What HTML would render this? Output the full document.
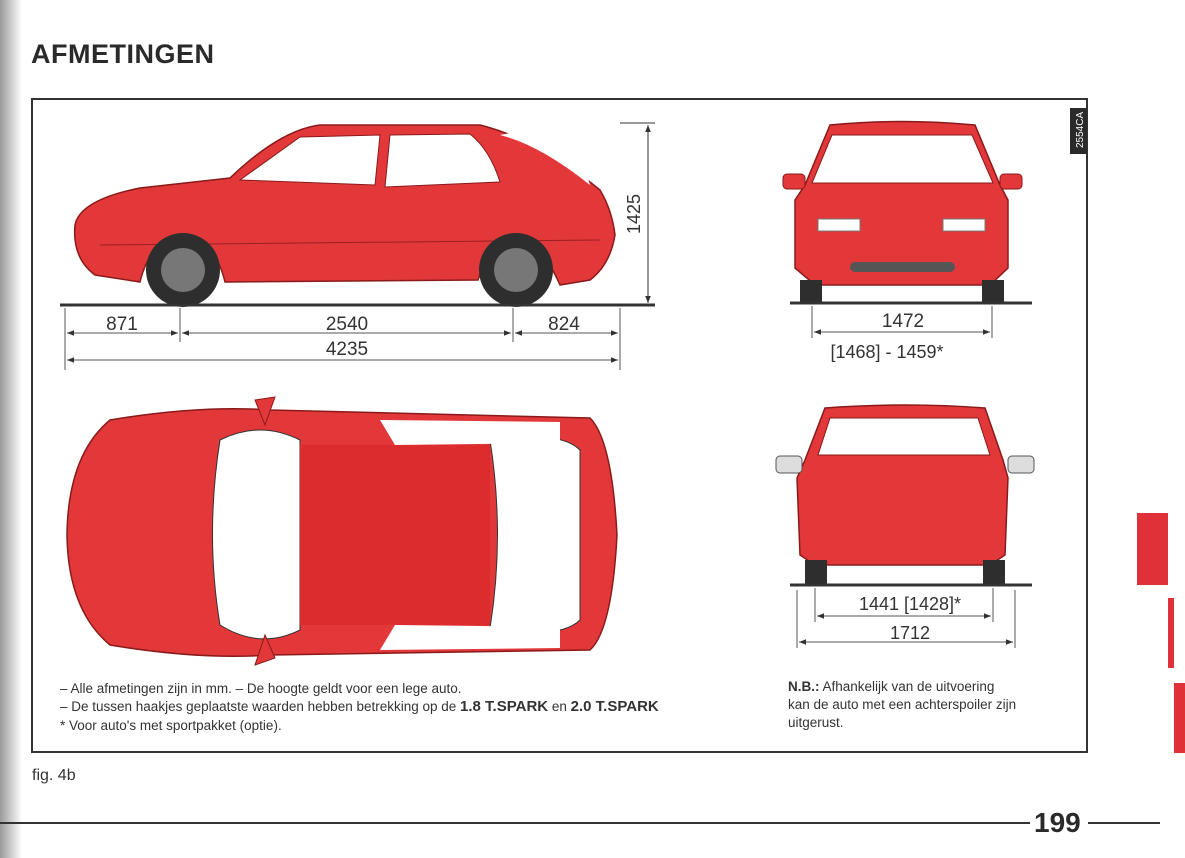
<!DOCTYPE html>
<html><head><meta charset="utf-8"><style>
html,body{margin:0;padding:0;background:#fff}
body{width:1185px;height:858px;overflow:hidden;position:relative;font-family:"Liberation Sans",sans-serif}
svg{position:absolute;left:0;top:0}
</style></head><body>
<svg width="1185" height="858" viewBox="0 0 1185 858" xmlns="http://www.w3.org/2000/svg">
<defs>
<linearGradient id="lg" x1="0" x2="1"><stop offset="0" stop-color="#9a9a9a"/><stop offset="1" stop-color="#fff"/></linearGradient>
<marker id="a" viewBox="0 0 10 10" refX="10" refY="5" markerWidth="9" markerHeight="7" orient="auto-start-reverse"><path d="M0,1 L10,5 L0,9z" fill="#333"/></marker>
</defs>
<rect x="0" y="0" width="22" height="858" fill="url(#lg)"/>
<text x="31" y="63" font-size="27" font-weight="bold" fill="#2a2a2a" style="letter-spacing:0.5px">AFMETINGEN</text>
<rect x="32" y="99" width="1055" height="653" fill="none" stroke="#333" stroke-width="2"/>
<rect x="1070" y="108" width="17" height="46" fill="#2a2a2a"/>
<text transform="translate(1083,148) rotate(-90)" font-size="10" fill="#fff">2554CA</text>

<!-- side view -->
<g>
<path d="M75,225 Q80,200 140,188 L230,178 Q280,130 320,125 L480,125 Q540,140 600,190 Q612,210 615,235 Q610,265 590,280 L560,285 Q540,240 515,240 Q490,245 478,280 L225,282 Q215,240 183,238 Q150,240 140,282 L95,275 Q72,258 75,225Z" fill="#e2383a" stroke="#8a1a1a" stroke-width="1.5"/>
<path d="M240,180 L300,137 L380,135 L375,185Z" fill="#fff" stroke="#8a1a1a"/>
<path d="M390,135 L470,134 Q490,150 500,182 L385,187Z" fill="#fff" stroke="#8a1a1a"/>
<path d="M500,135 Q540,145 590,185 L585,168 Q560,148 510,133Z" fill="#fff"/>
<line x1="100" y1="245" x2="600" y2="240" stroke="#9a2020"/>
<circle cx="183" cy="270" r="37" fill="#2e2e2e"/><circle cx="183" cy="270" r="22" fill="#777"/>
<circle cx="516" cy="270" r="37" fill="#2e2e2e"/><circle cx="516" cy="270" r="22" fill="#777"/>
</g>
<line x1="60" y1="305" x2="655" y2="305" stroke="#333" stroke-width="3"/>
<line x1="648" y1="125" x2="648" y2="303" stroke="#333" marker-start="url(#a)" marker-end="url(#a)"/>
<line x1="620" y1="123" x2="655" y2="123" stroke="#333"/>
<text transform="translate(640,214) rotate(-90)" font-size="18" fill="#333" text-anchor="middle" style="font-stretch:condensed">1425</text>
<g stroke="#555" stroke-width="1">
<line x1="65" y1="308" x2="65" y2="370"/><line x1="180" y1="308" x2="180" y2="342"/><line x1="513" y1="308" x2="513" y2="342"/><line x1="620" y1="308" x2="620" y2="370"/>
<line x1="67" y1="333" x2="178" y2="333" marker-start="url(#a)" marker-end="url(#a)"/>
<line x1="182" y1="333" x2="511" y2="333" marker-start="url(#a)" marker-end="url(#a)"/>
<line x1="515" y1="333" x2="618" y2="333" marker-start="url(#a)" marker-end="url(#a)"/>
<line x1="67" y1="360" x2="618" y2="360" marker-start="url(#a)" marker-end="url(#a)"/>
</g>
<g font-size="19" fill="#333" text-anchor="middle">
<text x="122" y="330">871</text><text x="347" y="330">2540</text><text x="564" y="330">824</text><text x="347" y="355">4235</text>
</g>

<!-- front view -->
<path d="M830,125 Q900,118 975,125 L1000,185 L1008,200 L1008,268 L990,285 L815,285 L795,268 L795,200 L805,185Z" fill="#e2383a" stroke="#8a1a1a" stroke-width="1.5"/>
<path d="M832,135 L972,135 L993,183 L812,183Z" fill="#fff" stroke="#8a1a1a"/>
<rect x="783" y="174" width="22" height="15" rx="4" fill="#e2383a" stroke="#8a1a1a"/>
<rect x="1000" y="174" width="22" height="15" rx="4" fill="#e2383a" stroke="#8a1a1a"/>
<rect x="818" y="219" width="42" height="12" fill="#fff" stroke="#777"/><rect x="943" y="219" width="42" height="12" fill="#fff" stroke="#777"/>
<rect x="850" y="262" width="105" height="10" rx="5" fill="#555"/>
<rect x="800" y="280" width="22" height="23" fill="#2e2e2e"/><rect x="982" y="280" width="22" height="23" fill="#2e2e2e"/>
<line x1="790" y1="303" x2="1032" y2="303" stroke="#333" stroke-width="3"/>
<line x1="812" y1="306" x2="812" y2="338" stroke="#555"/><line x1="992" y1="306" x2="992" y2="338" stroke="#555"/>
<line x1="814" y1="332" x2="990" y2="332" stroke="#555" marker-start="url(#a)" marker-end="url(#a)"/>
<text x="903" y="327" font-size="19" fill="#333" text-anchor="middle">1472</text>
<text x="887" y="358" font-size="18" fill="#333" text-anchor="middle">[1468] - 1459*</text>

<!-- top view -->
<path d="M110,420 Q200,405 270,410 L590,418 Q612,440 617,535 Q612,630 590,650 L270,655 Q200,660 110,645 Q68,610 67,535 Q68,455 110,420Z" fill="#e2383a" stroke="#8a1a1a" stroke-width="1.5"/>
<path d="M220,440 Q260,420 300,440 L300,630 Q260,650 220,625 Q205,535 220,440Z" fill="#fff" stroke="#333"/>
<path d="M490,440 Q560,430 580,450 L580,620 Q560,640 490,628 Q505,535 490,440Z" fill="#fff" stroke="#333"/>
<rect x="300" y="445" width="190" height="180" fill="#dd2c2e"/>
<path d="M380,420 L560,422 L560,443 L395,445Z" fill="#fff"/><path d="M380,650 L560,648 L560,627 L395,625Z" fill="#fff"/>
<path d="M255,400 L275,397 L265,425Z" fill="#e2383a" stroke="#8a1a1a"/><path d="M255,665 L275,658 L265,635Z" fill="#e2383a" stroke="#8a1a1a"/>

<!-- rear view -->
<path d="M825,408 Q905,402 985,408 L1003,460 L1008,478 L1005,555 L990,565 L815,565 L800,555 L797,478 L805,460Z" fill="#e2383a" stroke="#8a1a1a" stroke-width="1.5"/>
<path d="M830,418 L978,418 L990,455 L818,455Z" fill="#fff" stroke="#8a1a1a"/>
<rect x="776" y="456" width="26" height="17" rx="4" fill="#ddd" stroke="#555"/><rect x="1008" y="456" width="26" height="17" rx="4" fill="#ddd" stroke="#555"/>
<rect x="805" y="560" width="22" height="25" fill="#2e2e2e"/><rect x="983" y="560" width="22" height="25" fill="#2e2e2e"/>
<line x1="790" y1="585" x2="1032" y2="585" stroke="#333" stroke-width="3"/>
<g stroke="#555"><line x1="815" y1="588" x2="815" y2="622"/><line x1="993" y1="588" x2="993" y2="622"/><line x1="797" y1="590" x2="797" y2="648"/><line x1="1015" y1="590" x2="1015" y2="648"/>
<line x1="817" y1="616" x2="991" y2="616" marker-start="url(#a)" marker-end="url(#a)"/>
<line x1="799" y1="642" x2="1013" y2="642" marker-start="url(#a)" marker-end="url(#a)"/></g>
<text x="910" y="610" font-size="18" fill="#333" text-anchor="middle">1441  [1428]*</text>
<text x="910" y="639" font-size="18" fill="#333" text-anchor="middle">1712</text>

<g font-size="13.5" fill="#333">
<text x="60" y="693">– Alle afmetingen zijn in mm. – De hoogte geldt voor een lege auto.</text>
<text x="60" y="711">– De tussen haakjes geplaatste waarden hebben betrekking op de <tspan font-weight="bold" font-size="15">1.8 T.SPARK</tspan> en <tspan font-weight="bold" font-size="15">2.0 T.SPARK</tspan></text>
<text x="60" y="730">*  Voor auto's met sportpakket (optie).</text>
<text x="788" y="691"><tspan font-weight="bold">N.B.:</tspan> Afhankelijk van de uitvoering</text>
<text x="788" y="709">kan de auto met een achterspoiler zijn</text>
<text x="788" y="727">uitgerust.</text>
</g>
<text x="32" y="780" font-size="16" fill="#333">fig. 4b</text>
<line x1="0" y1="823" x2="1030" y2="823" stroke="#333" stroke-width="2"/>
<text x="1034" y="832" font-size="28" font-weight="bold" fill="#2a2a2a">199</text>
<line x1="1088" y1="823" x2="1160" y2="823" stroke="#333" stroke-width="2"/>
<rect x="1137" y="513" width="31" height="72" fill="#e03038"/>
<rect x="1168" y="598" width="6" height="70" fill="#e03038"/>
<rect x="1174" y="683" width="11" height="70" fill="#e03038"/>
</svg>
</body></html>
